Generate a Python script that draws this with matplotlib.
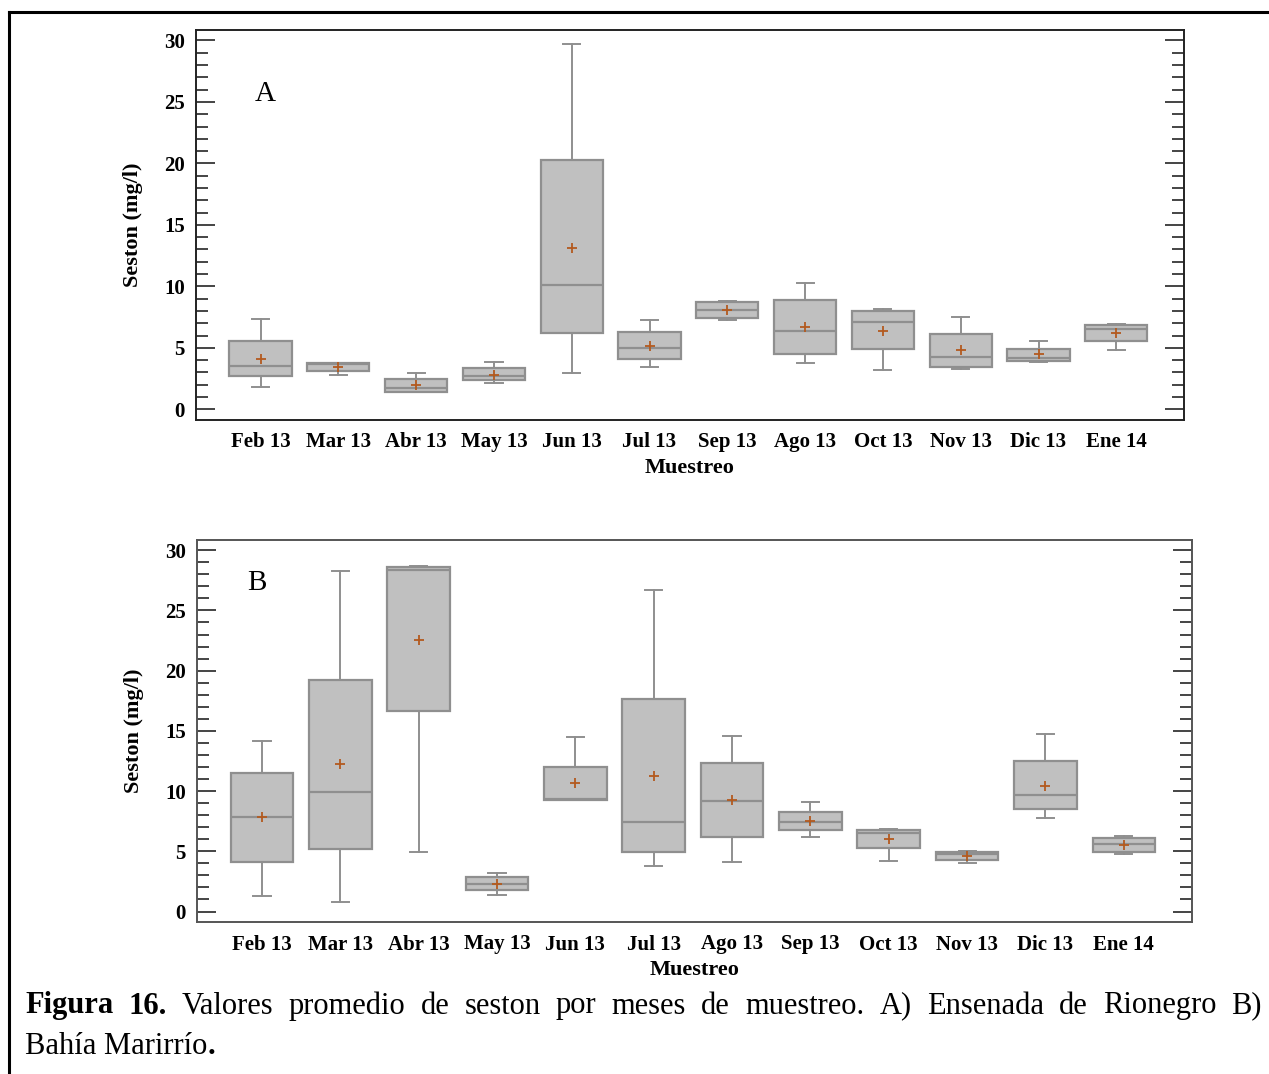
import matplotlib.pyplot as plt
from matplotlib.lines import Line2D
from matplotlib.ticker import MultipleLocator

plt.rcParams['font.family'] = 'Liberation Serif'

# sampling months
months_a = ['Feb 13', 'Mar 13', 'Abr 13', 'May 13', 'Jun 13', 'Jul 13',
            'Sep 13', 'Ago 13', 'Oct 13', 'Nov 13', 'Dic 13', 'Ene 14']
months_b = ['Feb 13', 'Mar 13', 'Abr 13', 'May 13', 'Jun 13', 'Jul 13',
            'Ago 13', 'Sep 13', 'Oct 13', 'Nov 13', 'Dic 13', 'Ene 14']

# A) Ensenada de Rionegro - box stats
a_low = [1.84, 2.82, 1.41, 2.17, 2.93, 3.44, 7.24, 3.77, 3.22, 3.25, 3.88, 4.82]
a_q1 = [2.68, 3.12, 1.41, 2.36, 6.18, 4.07, 7.45, 4.50, 4.90, 3.44, 3.96, 5.53]
a_med = [3.55, 3.66, 1.73, 2.68, 10.09, 5.01, 8.10, 6.40, 7.13, 4.28, 4.17, 6.51]
a_q3 = [5.56, 3.77, 2.49, 3.33, 20.26, 6.29, 8.70, 8.92, 8.00, 6.10, 4.93, 6.83]
a_high = [7.35, 3.77, 2.93, 3.87, 29.70, 7.27, 8.84, 10.30, 8.19, 7.49, 5.56, 6.94]
a_mean = [4.07, 3.44, 1.95, 2.82, 13.15, 5.15, 8.10, 6.72, 6.40, 4.82, 4.50, 6.18]

# B) Bahia Marirrio
b_low = [1.30, 0.78, 4.96, 1.41, 9.23, 3.77, 4.10, 6.15, 4.21, 4.07, 7.73, 4.74]
b_q1 = [4.10, 5.19, 16.66, 1.75, 9.23, 4.96, 6.15, 6.76, 5.27, 4.30, 8.51, 4.96]
b_med = [7.87, 9.89, 28.40, 2.30, 9.34, 7.43, 9.14, 7.43, 6.48, 4.79, 9.67, 5.60]
b_q3 = [11.47, 19.20, 28.57, 2.88, 12.03, 17.62, 12.36, 8.26, 6.76, 4.93, 12.47, 6.13]
b_high = [14.19, 28.24, 28.68, 3.24, 14.52, 26.66, 14.60, 9.12, 6.87, 5.05, 14.71, 6.23]
b_mean = [7.87, 12.25, 22.56, 2.30, 10.64, 11.28, 9.26, 7.51, 6.02, 4.63, 10.42, 5.49]

W, H = 1269, 1074
fig = plt.figure(figsize=(W / 100, H / 100), dpi=100)

box_gray = '#8f8f8f'
mean_col = '#b35a1f'


def make_stats(low, q1, med, q3, high, mean):
    stats = []
    for i in range(len(med)):
        stats.append({'whislo': low[i], 'q1': q1[i], 'med': med[i], 'q3': q3[i],
                      'whishi': high[i], 'mean': mean[i], 'fliers': []})
    return stats


def draw_panel(rect, months, stats, letter, letter_pos, spine_col):
    ax = fig.add_axes(rect)
    pos = list(range(len(months)))
    ax.bxp(stats, positions=pos, widths=0.8, patch_artist=True, showmeans=True,
           showfliers=False, capwidths=0.22,
           boxprops=dict(facecolor='#c0c0c0', edgecolor=box_gray, linewidth=1.6),
           medianprops=dict(color=box_gray, linewidth=1.6),
           whiskerprops=dict(color=box_gray, linewidth=1.4),
           capprops=dict(color=box_gray, linewidth=1.4),
           meanprops=dict(marker='+', markeredgecolor=mean_col, markersize=7,
                          markeredgewidth=1.3))
    ax.set_xlim(-0.83, 11.87)
    ax.set_ylim(-0.87, 30.85)
    ax.set_xticks(pos)
    ax.set_xticklabels(months, fontsize=15, fontweight='bold')
    ax.tick_params(axis='x', length=0, pad=9)
    ax.yaxis.set_major_locator(MultipleLocator(5))
    ax.yaxis.set_minor_locator(MultipleLocator(1))
    ax.tick_params(axis='y', which='both', direction='in', left=True, right=True,
                   color='#444444', width=1.4, pad=8, labelsize=15)
    ax.tick_params(axis='y', which='major', length=14)
    ax.tick_params(axis='y', which='minor', length=8.5)
    for lab in ax.get_yticklabels():
        lab.set_fontweight('bold')
    for sp in ax.spines.values():
        sp.set_color(spine_col)
        sp.set_linewidth(1.4)
    ax.set_xlabel('Muestreo', fontsize=16, fontweight='bold', labelpad=4)
    ax.set_ylabel('Seston (mg/l)', fontsize=16, fontweight='bold', labelpad=15)
    ax.text(letter_pos[0], letter_pos[1], letter, transform=ax.transAxes,
            fontsize=21, ha='center', va='center')
    return ax


ax_a = draw_panel([196 / W, 1 - 420 / H, 988 / W, 390 / H], months_a,
                  make_stats(a_low, a_q1, a_med, a_q3, a_high, a_mean),
                  'A', (0.07, 0.835), '#222222')
ax_b = draw_panel([197 / W, 1 - 922 / H, 995 / W, 382 / H], months_b,
                  make_stats(b_low, b_q1, b_med, b_q3, b_high, b_mean),
                  'B', (0.06, 0.887), '#555555')

# frame lines of the page
fig.add_artist(Line2D([9 / W, 1], [1 - 12 / H, 1 - 12 / H], color='black', linewidth=2.2))
fig.add_artist(Line2D([9 / W, 9 / W], [0, 1 - 12 / H], color='black', linewidth=2.2))

# caption, first line justified between x=25 and x=1262 px
cap_size = 22
renderer = fig.canvas.get_renderer()
words = [('Figura', 'bold'), ('16.', 'bold'), ('Valores', 'normal'), ('promedio', 'normal'),
         ('de', 'normal'), ('seston', 'normal'), ('por', 'normal'), ('meses', 'normal'),
         ('de', 'normal'), ('muestreo.', 'normal'), ('A)', 'normal'), ('Ensenada', 'normal'),
         ('de', 'normal'), ('Rionegro', 'normal'), ('B)', 'normal')]
y1 = 1 - 1006 / H
items = []
for w, fw in words:
    t = fig.text(0, y1, w, fontsize=cap_size, fontweight=fw, va='center', ha='left')
    items.append((t, t.get_window_extent(renderer).width))
total = sum(wd for _, wd in items)
gap = (1262 - 25 - total) / (len(items) - 1)
x = 25
for t, wd in items:
    t.set_x(x / W)
    x += wd + gap

t2 = fig.text(25 / W, 1 - 1046 / H, 'Bahía Marirrío', fontsize=cap_size,
              va='center', ha='left')
fig.add_artist(plt.Annotation('.', xy=(1, 0), xycoords=t2, fontsize=cap_size,
                              fontweight='bold', va='bottom', ha='left'))

fig.savefig('out.png', dpi=100)
